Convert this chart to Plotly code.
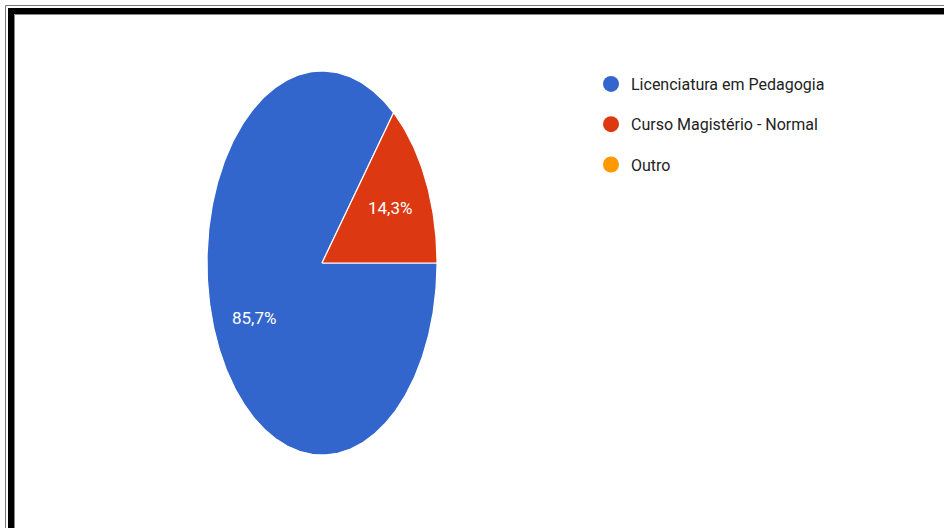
import numpy as np
import plotly.graph_objects as go

# Survey answers: share of respondents per course (percent)
categories = ["Licenciatura em Pedagogia", "Curso Magistério - Normal", "Outro"]
shares = [85.7, 14.3, 0.0]
colors = ["#3366CC", "#DC3912", "#FF9900"]

W, H = 944, 528
fig = go.Figure()

# Pie slices drawn as filled wedges, starting at 3 o'clock and running clockwise
total = sum(shares)
start = 0.0
for name, val, col in zip(categories, shares, colors):
    frac = val / total
    if frac > 0:
        t = np.linspace(start, start - frac * 2 * np.pi, max(int(frac * 400), 8))
        xs = np.concatenate([[0], np.cos(t), [0]])
        ys = np.concatenate([[0], np.sin(t), [0]])
        fig.add_trace(go.Scatter(
            x=xs, y=ys, mode="lines", fill="toself", fillcolor=col,
            line=dict(color="white", width=1.2), hoverinfo="skip",
            showlegend=False,
        ))
        mid = start - frac * np.pi
        fig.add_annotation(
            x=0.66 * np.cos(mid), y=0.66 * np.sin(mid),
            text=f"{val:.1f}%".replace(".", ","), showarrow=False,
            font=dict(family="Roboto", size=17, color="white"),
        )
    start -= frac * 2 * np.pi

# Legend entries with round markers
for i, (name, col) in enumerate(zip(categories, colors)):
    fig.add_trace(go.Scatter(
        x=[None], y=[None], mode="markers", name=name,
        marker=dict(symbol="circle", size=16, color=col),
        legendgroup=f"g{i}", showlegend=True,
    ))

# Double frame along the top and left edges
def px(v):
    return v / W

def py(v):
    return 1 - v / H

fig.add_shape(type="rect", xref="paper", yref="paper",
              x0=px(5.5), y0=py(5.5), x1=px(W + 20), y1=py(H + 20),
              line=dict(color="#777777", width=1), layer="above")
fig.add_shape(type="rect", xref="paper", yref="paper",
              x0=px(11), y0=py(11), x1=px(W + 20), y1=py(H + 20),
              line=dict(color="#000000", width=6), layer="above")
fig.add_shape(type="rect", xref="paper", yref="paper",
              x0=px(14.5), y0=py(14.5), x1=px(W + 20), y1=py(H + 20),
              line=dict(color="#888888", width=1), layer="above")

fig.update_layout(
    width=W, height=H,
    margin=dict(l=0, r=0, t=0, b=0),
    paper_bgcolor="white", plot_bgcolor="white",
    xaxis=dict(domain=[px(207), px(437)], range=[-1, 1], visible=False,
               fixedrange=True),
    yaxis=dict(domain=[py(455), py(71)], range=[-1, 1], visible=False,
               fixedrange=True),
    legend=dict(
        x=px(591), y=py(67), xanchor="left", yanchor="top",
        font=dict(family="Roboto", size=16, color="#222222"),
        tracegroupgap=16.5, itemsizing="trace",
        bgcolor="rgba(0,0,0,0)",
    ),
    showlegend=True,
)

fig.write_html("out.html")
